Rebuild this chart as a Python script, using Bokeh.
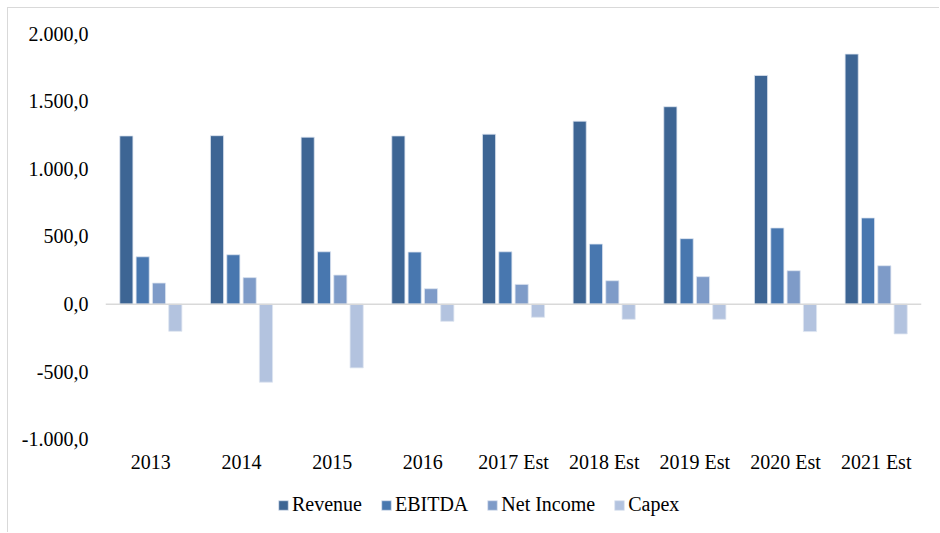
from bokeh.plotting import figure
from bokeh.models import ColumnDataSource, FactorRange, Range1d, Span, Legend, LegendItem, FixedTicker
from bokeh.transform import dodge
from bokeh.embed import file_html
from bokeh.resources import INLINE

years = ["2013", "2014", "2015", "2016", "2017 Est", "2018 Est", "2019 Est", "2020 Est", "2021 Est"]
revenue = [1243, 1245, 1234, 1243, 1256, 1352, 1459, 1690, 1848]
ebitda = [350, 365, 387, 385, 387, 444, 484, 563, 637]
net_income = [156, 196, 215, 114, 146, 173, 203, 247, 284]
capex = [-201, -577, -471, -127, -97, -112, -112, -203, -220]

series_names = ["Revenue", "EBITDA", "Net Income", "Capex"]
series_keys = ["revenue", "ebitda", "net_income", "capex"]
colors = ["#3D6594", "#4877AF", "#7E9BC8", "#B3C3DF"]

y_ticks = [-1000, -500, 0, 500, 1000, 1500, 2000]
y_tick_labels = ["-1.000,0", "-500,0", "0,0", "500,0", "1.000,0", "1.500,0", "2.000,0"]
axis_min = -1000

source = ColumnDataSource(dict(year=years, revenue=revenue, ebitda=ebitda,
                               net_income=net_income, capex=capex))

FONT = "Liberation Serif"
FONT_SIZE = "20px"

p = figure(x_range=FactorRange(*years), y_range=Range1d(-1695, 2000),
           width=932, height=525, output_backend="svg", toolbar_location=None,
           min_border_left=97, min_border_right=19, min_border_top=25, min_border_bottom=0)
p.styles = {"margin-left": "7px", "margin-top": "7px",
            "border-left": "1px solid #d9d9d9", "border-top": "1px solid #d9d9d9"}
p.outline_line_color = None
p.xgrid.grid_line_color = None
p.ygrid.grid_line_color = None
p.x_range.range_padding = 0
p.background_fill_color = "white"
p.border_fill_color = "white"

offsets = [-0.27, -0.09, 0.09, 0.27]
renderers = []
for key, off, col in zip(series_keys, offsets, colors):
    r = p.vbar(x=dodge("year", off, range=p.x_range), top=key, bottom=0, width=0.145,
               source=source, fill_color=col, line_color="#dde5f0", line_width=0.8)
    renderers.append(r)

p.add_layout(Span(location=0, dimension="width", line_color="#d9d9d9", line_width=1.5))

p.yaxis.ticker = FixedTicker(ticks=y_ticks)
p.yaxis.major_label_overrides = {t: l for t, l in zip(y_ticks, y_tick_labels)}
p.xaxis.fixed_location = axis_min
for ax in (p.xaxis[0], p.yaxis[0]):
    ax.axis_line_color = None
    ax.major_tick_line_color = None
    ax.minor_tick_line_color = None
    ax.major_tick_out = 0
    ax.major_tick_in = 0
    ax.major_label_text_font = FONT
    ax.major_label_text_font_size = FONT_SIZE
    ax.major_label_text_color = "#000000"
p.yaxis.major_label_standoff = 17
p.xaxis.major_label_standoff = 12

legend = Legend(items=[LegendItem(label=n, renderers=[r]) for n, r in zip(series_names, renderers)],
                orientation="horizontal", location=(172, 17),
                label_text_font=FONT, label_text_font_size=FONT_SIZE, label_text_color="#000000",
                glyph_width=12, glyph_height=12, label_standoff=3, spacing=18,
                padding=0, margin=0, border_line_color=None, background_fill_alpha=0)
p.add_layout(legend)

open("out.html", "w").write(file_html(p, INLINE))
